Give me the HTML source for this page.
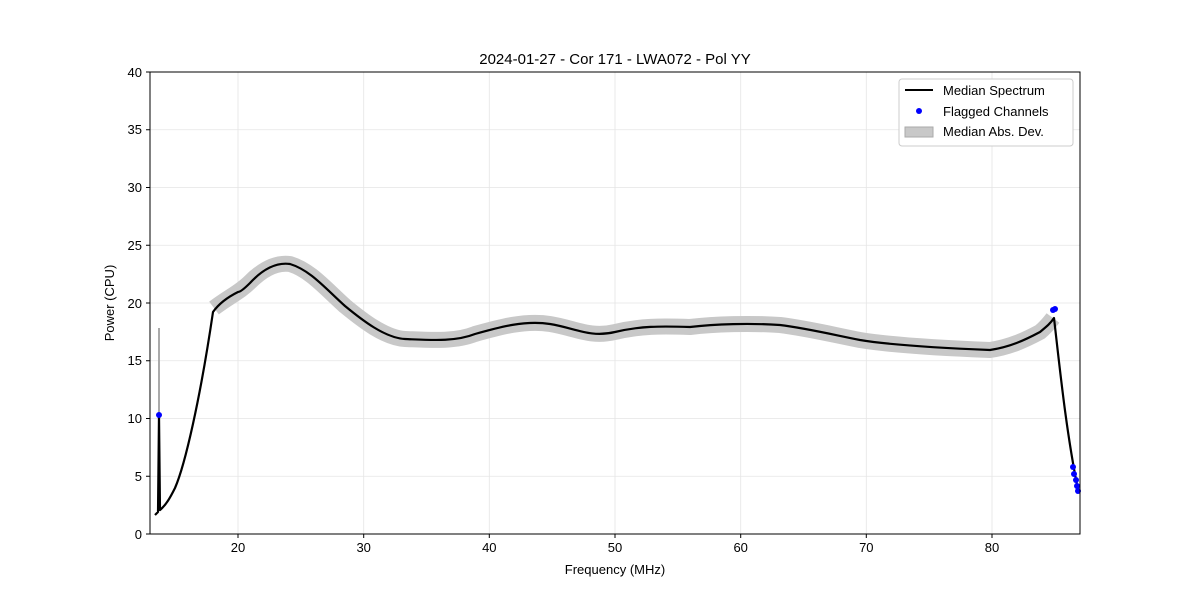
<!DOCTYPE html>
<html><head><style>body{margin:0;background:#fff}svg{font-family:"Liberation Sans","DejaVu Sans",sans-serif}</style></head>
<body>
<svg width="1200" height="600" viewBox="0 0 1200 600">
<g stroke="#e5e5e5" stroke-width="0.8">
<line x1="238" y1="72" x2="238" y2="534"/><line x1="363.7" y1="72" x2="363.7" y2="534"/><line x1="489.3" y1="72" x2="489.3" y2="534"/><line x1="615" y1="72" x2="615" y2="534"/><line x1="740.7" y1="72" x2="740.7" y2="534"/><line x1="866.3" y1="72" x2="866.3" y2="534"/><line x1="992" y1="72" x2="992" y2="534"/>
<line x1="150" y1="476.25" x2="1080" y2="476.25"/><line x1="150" y1="418.5" x2="1080" y2="418.5"/><line x1="150" y1="360.75" x2="1080" y2="360.75"/><line x1="150" y1="303" x2="1080" y2="303"/><line x1="150" y1="245.25" x2="1080" y2="245.25"/><line x1="150" y1="187.5" x2="1080" y2="187.5"/><line x1="150" y1="129.75" x2="1080" y2="129.75"/>
</g>
<line x1="159" y1="328" x2="159" y2="510" stroke="#aaa" stroke-width="2"/>
<path fill="none" stroke="#c8c8c8" stroke-width="16" stroke-linejoin="round" stroke-linecap="butt" d="M214,308 C230,296 240,292 250,282 C262,270 275,262 290,264 C310,270 325,288 345,306 C362,320 385,338 405,339 C430,340 455,342 475,334 C500,327 525,320 550,324 C575,328 590,338 615,332 C640,326 660,326 690,327 C715,324 750,323 780,325 C805,328 830,334 860,340 C890,345 940,348 990,350 C1010,347 1025,340 1040,332 C1046,327 1050,322 1053,318"/>
<path fill="none" stroke="#000" stroke-width="2.2" stroke-linejoin="round" d="M155,515 L158,512 L159,415 L160,510 C166,505 170,498 175,488 C185,465 200,400 213,312 C220,302 230,296 238,292 C240,292 245,288 250,283 C262,270 275,262 290,264 C310,270 325,288 345,306 C362,320 385,338 405,339 C430,340 455,342 475,334 C500,327 525,320 550,324 C575,328 590,338 615,332 C640,326 660,326 690,327 C715,324 750,323 780,325 C805,328 830,334 860,340 C890,345 940,348 990,350 C1010,347 1025,340 1040,332 C1046,327 1050,324 1054,318 C1060,370 1066,430 1078,490"/>
<g fill="#0000ff">
<circle cx="159" cy="415" r="3"/><circle cx="1053" cy="310" r="3"/><circle cx="1055" cy="309" r="3"/>
<circle cx="1073" cy="467" r="3"/><circle cx="1074" cy="474" r="3"/><circle cx="1076" cy="480" r="3"/><circle cx="1077" cy="486" r="3"/><circle cx="1078" cy="491" r="3"/>
</g>
<rect x="150" y="72" width="930" height="462" fill="none" stroke="#000" stroke-width="1"/>
<g stroke="#000"><line x1="238" y1="534" x2="238" y2="538"/><line x1="363.7" y1="534" x2="363.7" y2="538"/><line x1="489.3" y1="534" x2="489.3" y2="538"/><line x1="615" y1="534" x2="615" y2="538"/><line x1="740.7" y1="534" x2="740.7" y2="538"/><line x1="866.3" y1="534" x2="866.3" y2="538"/><line x1="992" y1="534" x2="992" y2="538"/>
<line x1="146" y1="534" x2="150" y2="534"/><line x1="146" y1="476.25" x2="150" y2="476.25"/><line x1="146" y1="418.5" x2="150" y2="418.5"/><line x1="146" y1="360.75" x2="150" y2="360.75"/><line x1="146" y1="303" x2="150" y2="303"/><line x1="146" y1="245.25" x2="150" y2="245.25"/><line x1="146" y1="187.5" x2="150" y2="187.5"/><line x1="146" y1="129.75" x2="150" y2="129.75"/><line x1="146" y1="72" x2="150" y2="72"/></g>
<g font-size="13" text-anchor="middle"><text x="238" y="552">20</text><text x="363.7" y="552">30</text><text x="489.3" y="552">40</text><text x="615" y="552">50</text><text x="740.7" y="552">60</text><text x="866.3" y="552">70</text><text x="992" y="552">80</text></g>
<g font-size="13" text-anchor="end"><text x="142" y="539">0</text><text x="142" y="481">5</text><text x="142" y="423">10</text><text x="142" y="365">15</text><text x="142" y="308">20</text><text x="142" y="250">25</text><text x="142" y="192">30</text><text x="142" y="134">35</text><text x="142" y="77">40</text></g>
<text x="615" y="574" font-size="13" text-anchor="middle">Frequency (MHz)</text>
<text x="114" y="303" font-size="13" text-anchor="middle" transform="rotate(-90 114 303)">Power (CPU)</text>
<text x="615" y="64" font-size="15" text-anchor="middle">2024-01-27 - Cor 171 - LWA072 - Pol YY</text>
<rect x="899" y="79" width="174" height="67" rx="3" fill="#fff" stroke="#ccc"/>
<line x1="905" y1="90" x2="933" y2="90" stroke="#000" stroke-width="2"/>
<circle cx="919" cy="111" r="3" fill="#0000ff"/>
<rect x="905" y="127" width="28" height="10" fill="#c8c8c8" stroke="#aaa"/>
<g font-size="13"><text x="943" y="95">Median Spectrum</text><text x="943" y="116">Flagged Channels</text><text x="943" y="136">Median Abs. Dev.</text></g>
</svg>
</body></html>
